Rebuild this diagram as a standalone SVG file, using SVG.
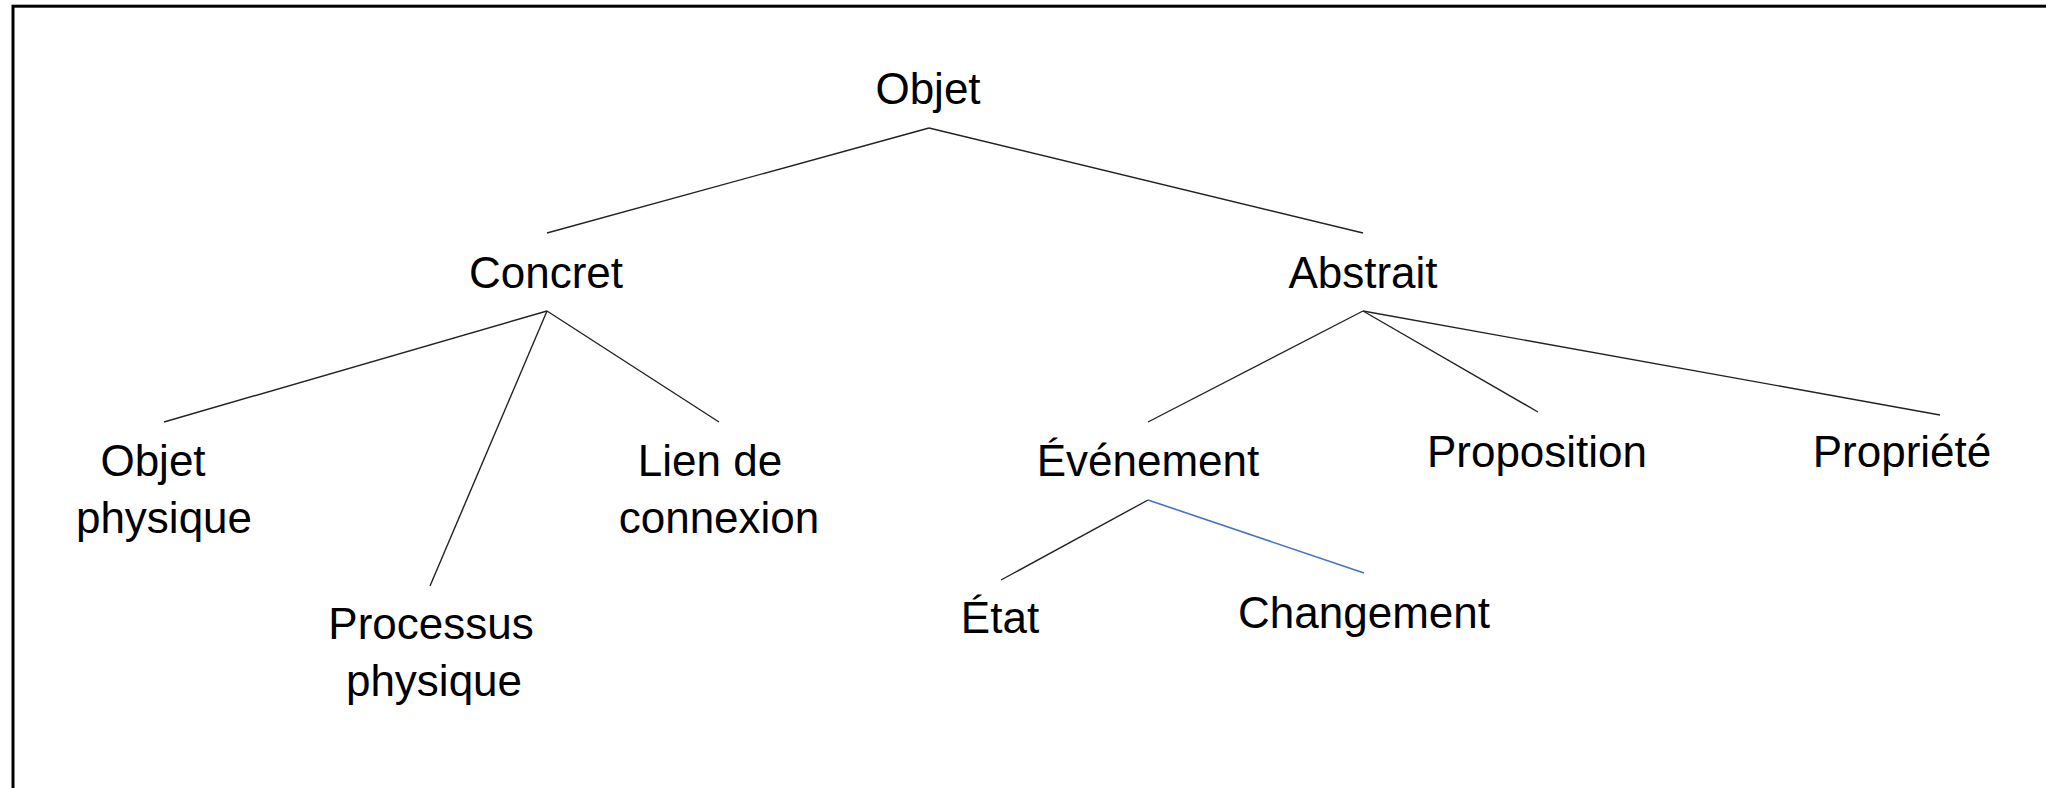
<svg xmlns="http://www.w3.org/2000/svg" width="2046" height="788" viewBox="0 0 2046 788">
<style>
.t{font-family:"Liberation Sans",Arial,sans-serif;font-size:44px;fill:#000;text-anchor:middle}
.e{stroke:#222;stroke-width:1.4;fill:none}
.b{stroke:#4472C4;stroke-width:1.6;fill:none}
</style>
<rect x="0" y="0" width="2046" height="788" fill="#fff"/>
<rect x="13" y="6.2" width="2100" height="850" fill="none" stroke="#000" stroke-width="3"/>
<g id="connectors">
<line class="e" x1="929" y1="128" x2="547" y2="233"/>
<line class="e" x1="929" y1="128" x2="1363" y2="233"/>
<line class="e" x1="547" y1="311" x2="164" y2="422"/>
<line class="e" x1="547" y1="311" x2="430" y2="586"/>
<line class="e" x1="547" y1="311" x2="719" y2="422"/>
<line class="e" x1="1363" y1="311" x2="1148" y2="422"/>
<line class="e" x1="1363" y1="311" x2="1538" y2="412"/>
<line class="e" x1="1363" y1="311" x2="1940" y2="415"/>
<line class="e" x1="1148" y1="500" x2="1001" y2="580"/>
<line class="b" x1="1148" y1="500" x2="1364" y2="573"/>
</g>
<g id="objet"><text class="t" x="928" y="104">Objet</text></g>
<g id="concret"><text class="t" x="546" y="288">Concret</text></g>
<g id="abstrait"><text class="t" x="1363" y="288">Abstrait</text></g>
<g id="objet-physique"><text class="t" x="153" y="476">Objet</text><text class="t" x="164" y="533">physique</text></g>
<g id="processus-physique"><text class="t" x="431" y="639">Processus</text><text class="t" x="434" y="696">physique</text></g>
<g id="lien-de-connexion"><text class="t" x="710" y="476">Lien de</text><text class="t" x="719" y="533">connexion</text></g>
<g id="evenement"><text class="t" x="1148" y="476">Événement</text></g>
<g id="proposition"><text class="t" x="1537" y="467">Proposition</text></g>
<g id="propriete"><text class="t" x="1902" y="467">Propriété</text></g>
<g id="etat"><text class="t" x="1000" y="633">État</text></g>
<g id="changement"><text class="t" x="1364" y="628">Changement</text></g>
</svg>
